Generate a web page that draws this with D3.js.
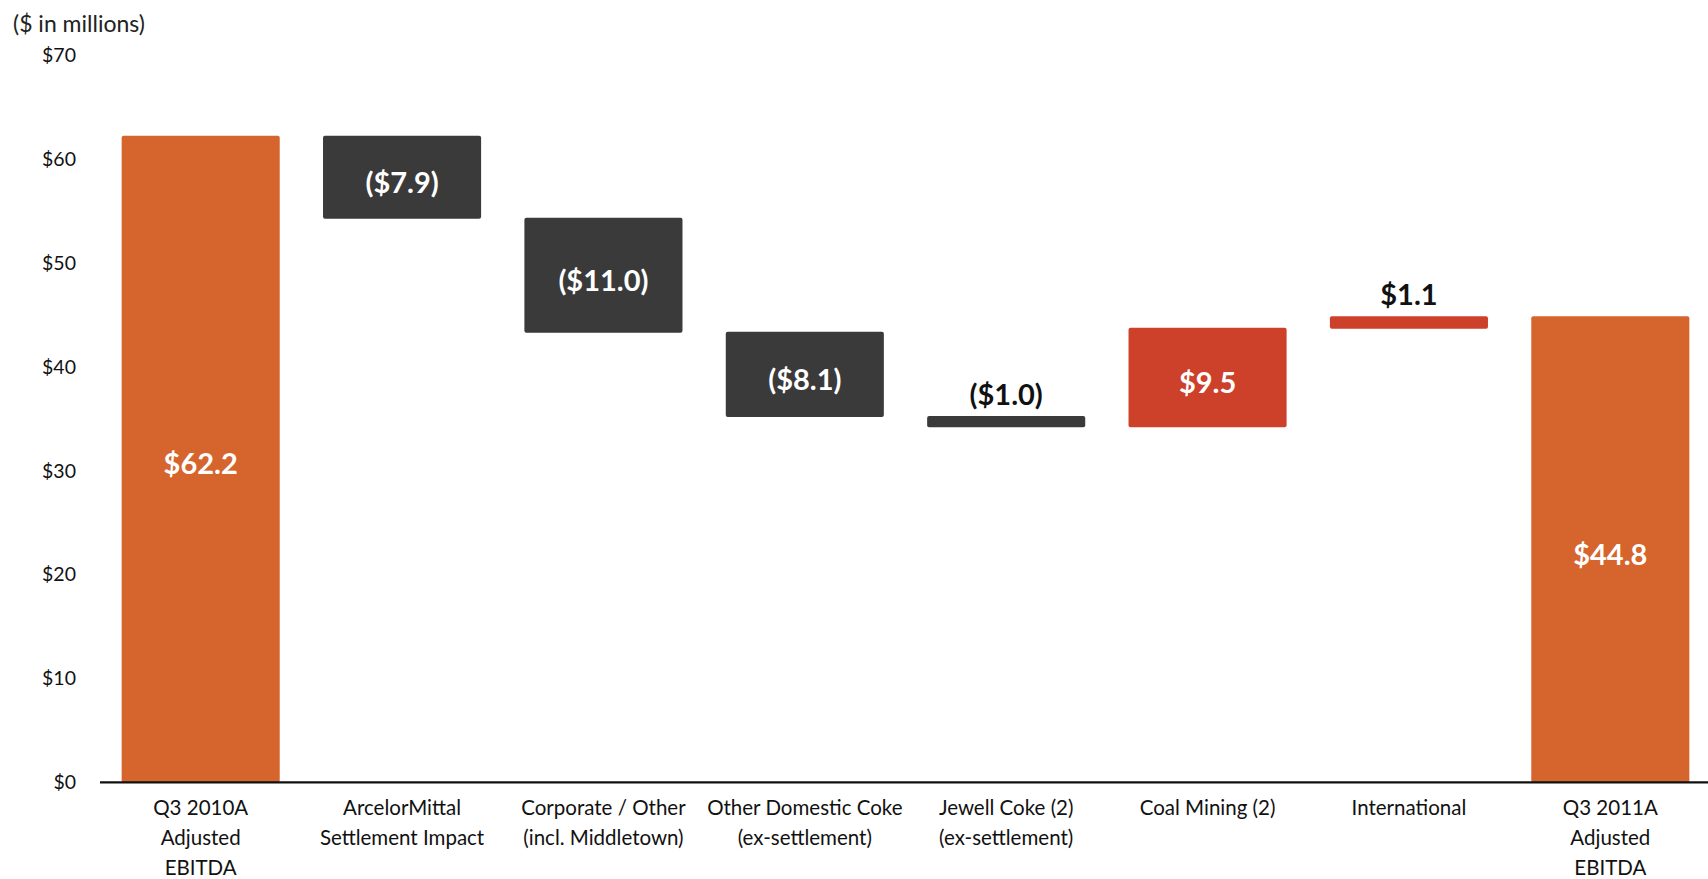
<!DOCTYPE html>
<html>
<head>
<meta charset="utf-8">
<script src="https://cdn.jsdelivr.net/npm/d3@7"></script>
<style>
  html, body { margin: 0; padding: 0; background: #fff; }
  svg { display: block; }
  text { font-family: Lato, "Open Sans", sans-serif; }
</style>
</head>
<body>
<svg id="chart" width="1708" height="879"></svg>
<script>
// ---- data ----
const categories = [
  ["Q3 2010A", "Adjusted", "EBITDA"],
  ["ArcelorMittal", "Settlement Impact"],
  ["Corporate / Other", "(incl. Middletown)"],
  ["Other Domestic Coke", "(ex-settlement)"],
  ["Jewell Coke (2)", "(ex-settlement)"],
  ["Coal Mining (2)"],
  ["International"],
  ["Q3 2011A", "Adjusted", "EBITDA"]
];
const values = [62.2, -7.9, -11.0, -8.1, -1.0, 9.5, 1.1, 44.8];
const kinds = ["total", "delta", "delta", "delta", "delta", "delta", "delta", "total"];
const yTicks = [0, 10, 20, 30, 40, 50, 60, 70];
const unitLabel = "($ in millions)";

// ---- build waterfall segments ----
let running = 0;
const rows = values.map((v, i) => {
  let lo, hi;
  if (kinds[i] === "total") { lo = 0; hi = v; running = v; }
  else { const start = running; running = +(running + v).toFixed(4); lo = Math.min(start, running); hi = Math.max(start, running); }
  return { i, v, kind: kinds[i], lo, hi, lines: categories[i] };
});

const colorOf = d => d.kind === "total" ? "#D6652D" : (d.v < 0 ? "#3A3A3A" : "#CD412A");
const fmt = v => v < 0 ? "($" + Math.abs(v).toFixed(1) + ")" : "$" + v.toFixed(1);

const svg = d3.select("#chart");

const x = d3.scaleBand().domain(d3.range(categories.length))
  .range([100, 1711]).paddingInner(0.215).paddingOuter(0.1075);
const y = d3.scaleLinear().domain([0, 70]).range([782.3, 55.7]);

// unit label
svg.append("text").attr("x", 13).attr("y", 32)
  .attr("font-size", 23).attr("fill", "#222").text(unitLabel);

// y axis (labels only)
const yAxis = d3.axisLeft(y).tickValues(yTicks).tickSize(0).tickPadding(0)
  .tickFormat(d => "$" + d);
const gy = svg.append("g").attr("transform", "translate(76,0)").call(yAxis);
gy.select(".domain").remove();
gy.selectAll("text").attr("font-size", 19.5).attr("fill", "#111")
  .attr("font-family", "Lato, 'Open Sans', sans-serif");

// bars
svg.append("g").selectAll("rect").data(rows).join("rect")
  .attr("x", d => x(d.i))
  .attr("width", x.bandwidth())
  .attr("y", d => y(d.hi) - 1)
  .attr("height", d => Math.max(0, y(d.lo) - y(d.hi)) + 1)
  .attr("rx", 2).attr("ry", 2)
  .attr("fill", colorOf);

// baseline axis
const xAxis = d3.axisBottom(x).tickSize(0).tickFormat("");
const gx = svg.append("g").attr("transform", `translate(0,${y(0)})`).call(xAxis);
gx.select(".domain").attr("stroke", "#111").attr("stroke-width", 2.2)
  .attr("d", "M100,0H1708");

// category labels
const catG = svg.append("g");
rows.forEach(d => {
  const t = catG.append("text")
    .attr("x", x(d.i) + x.bandwidth() / 2)
    .attr("y", y(0) + 33)
    .attr("text-anchor", "middle")
    .attr("font-size", 20.5).attr("fill", "#111");
  d.lines.forEach((ln, k) => {
    t.append("tspan").attr("x", x(d.i) + x.bandwidth() / 2)
      .attr("dy", k === 0 ? 0 : 30).text(ln);
  });
});

// value labels
svg.append("g").selectAll("text").data(rows).join("text")
  .attr("x", d => x(d.i) + x.bandwidth() / 2)
  .attr("y", d => {
    const h = y(d.lo) - y(d.hi);
    return h < 30 ? y(d.hi) - 12 : (y(d.lo) + y(d.hi)) / 2 + 15;
  })
  .attr("text-anchor", "middle")
  .attr("font-size", 29).attr("font-weight", 700)
  .attr("fill", d => (y(d.lo) - y(d.hi)) < 30 ? "#111" : "#fff")
  .text(d => fmt(d.v));
</script>
</body>
</html>
